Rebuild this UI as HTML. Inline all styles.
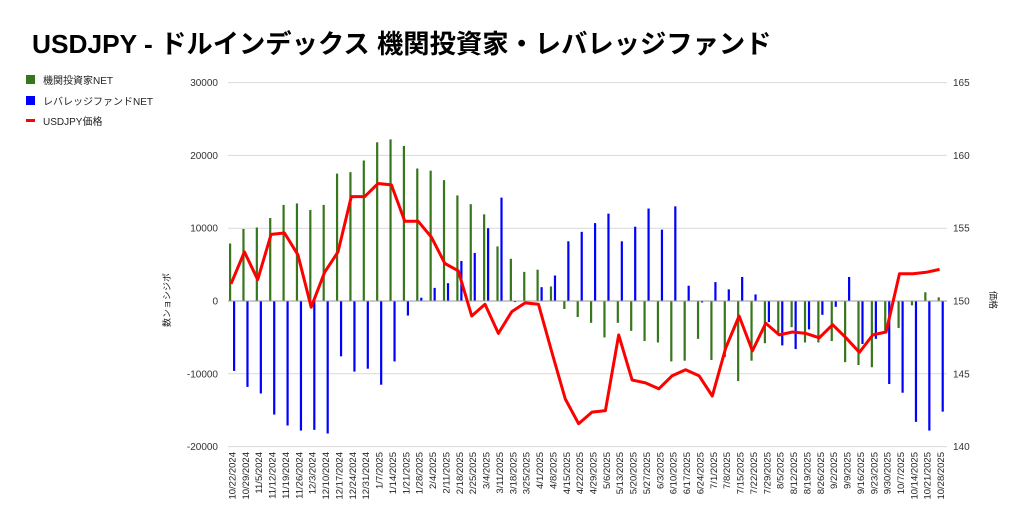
<!DOCTYPE html>
<html><head><meta charset="utf-8"><style>
body{margin:0;background:#fff;}
svg{display:block;font-family:"Liberation Sans","Noto Sans CJK JP",sans-serif;}
</style></head><body>
<svg id="c" width="1024" height="528" xmlns="http://www.w3.org/2000/svg">
<rect width="1024" height="528" fill="#fff"/>
<text x="32" y="53" font-size="26.3" font-weight="bold" fill="#000">USDJPY - ドルインデックス 機関投資家・レバレッジファンド</text>
<rect x="26" y="75" width="9" height="9" fill="#38761d"/>
<text x="43" y="84" font-size="10" fill="#222">機関投資家NET</text>
<rect x="26" y="96" width="9" height="9" fill="#0000ff"/>
<text x="43" y="105" font-size="10" fill="#222">レバレッジファンドNET</text>
<rect x="26" y="119" width="9" height="3" fill="#ff0000"/>
<text x="43" y="125" font-size="10" fill="#222">USDJPY価格</text>
<text transform="translate(170,300) rotate(-90)" font-size="9" text-anchor="middle" fill="#222">数ンョシジポ</text>
<text transform="translate(990,300) rotate(90)" font-size="9" text-anchor="middle" fill="#222">価格</text>
<g id="g"></g>
</svg>
<script>
var G=[7900,9900,10100,11400,13200,13400,12500,13200,17500,17700,19300,21800,22200,21300,18200,17900,16600,14500,13300,11900,7500,5800,4000,4300,2000,-1100,-2200,-3000,-5000,-3000,-4100,-5500,-5700,-8300,-8200,-5200,-8100,-7700,-11000,-8200,-5800,-4700,-3600,-5700,-5700,-5500,-8400,-8800,-9100,-4100,-3700,-600,1200,500];
var B=[-9600,-11800,-12700,-15600,-17100,-17800,-17700,-18200,-7600,-9700,-9300,-11500,-8300,-2000,450,1800,2450,5500,6600,10000,14200,-150,0,1900,3500,8200,9500,10700,12000,8200,10200,12700,9800,13000,2100,-200,-200,2600,1600,3300,900,-2900,-6100,-6600,-3900,-1900,-800,3300,-5900,-5200,-11400,-12600,-16600,-17800,-15200];
B.splice(35,1);
var P=[151.2,153.4,151.5,154.6,154.7,153.2,149.6,152.0,153.4,157.2,157.2,158.1,158.0,155.5,155.5,154.4,152.6,152.1,149.0,149.8,147.8,149.3,149.9,149.8,146.5,143.3,141.6,142.4,142.5,147.7,144.6,144.4,144.0,144.9,145.3,144.9,143.5,146.8,149.0,146.6,148.5,147.7,147.9,147.8,147.5,148.4,147.5,146.5,147.7,147.9,151.9,151.9,152.0,152.2];
var s='';
function yl(v){return 301-v*0.00728;}
function yr(p){return 83+(165-p)*14.56;}
for(var i=0;i<6;i++){var v=30000-i*10000,y=yl(v);
 if(v!==0)s+='<line x1="228" x2="947" y1="'+y+'" y2="'+y+'" stroke="#d9d9d9" stroke-width="1"/>';
 s+='<text x="218" y="'+(y+3.5)+'" font-size="10" text-anchor="end" fill="#333">'+v+'</text>';
 s+='<text x="953" y="'+(y+3.5)+'" font-size="10" fill="#333">'+(165-i*5)+'</text>';}
var d=new Date(2024,9,22),pts=[];
for(var i=0;i<54;i++){var x=230+i*13.37;
 var g=G[i],b=B[i];
 s+='<rect x="'+(x-1)+'" y="'+Math.min(yl(g),301)+'" width="2.2" height="'+Math.abs(g*0.00728)+'" fill="#38761d"/>';
 s+='<rect x="'+(x+3)+'" y="'+Math.min(yl(b),301)+'" width="2.2" height="'+Math.abs(b*0.00728)+'" fill="#0000ff"/>';
 pts.push((x+1).toFixed(1)+','+yr(P[i]).toFixed(1));
 var dd=new Date(d.getTime()+i*7*864e5);
 var lab=(dd.getMonth()+1)+'/'+dd.getDate()+'/'+dd.getFullYear();
 s+='<text transform="translate('+(x+5.5)+',452) rotate(-90)" font-size="9.5" text-anchor="end" fill="#222">'+lab+'</text>';}
s+='<line x1="228" x2="947" y1="301" y2="301" stroke="#999" stroke-width="1"/>';
s+='<polyline points="'+pts.join(' ')+'" fill="none" stroke="#ff0000" stroke-width="3" stroke-linejoin="round"/>';
document.getElementById('g').innerHTML=s;
</script>
</body></html>
